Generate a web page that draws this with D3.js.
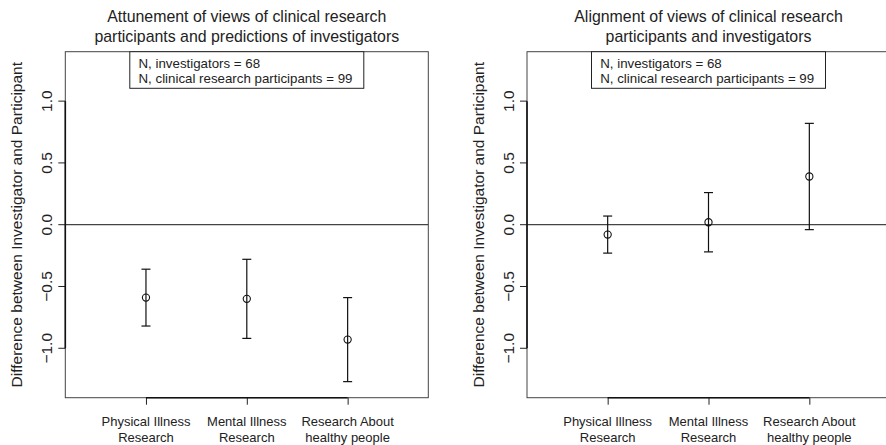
<!DOCTYPE html>
<html>
<head>
<meta charset="utf-8">
<script src="https://cdn.jsdelivr.net/npm/d3@7"></script>
<style>
  body { margin: 0; background: #fff; }
  svg { font-family: "Liberation Sans", Arial, sans-serif; }
</style>
</head>
<body>
<svg id="chart" width="886" height="445"></svg>
<script>
// categories along the x axis (two lines each)
const categories = [
  ["Physical Illness", "Research"],
  ["Mental Illness", "Research"],
  ["Research About", "healthy people"]
];
const yTicks = [-1.0, -0.5, 0.0, 0.5, 1.0];
const legendLines = ["N, investigators = 68", "N, clinical research participants = 99"];
const yLabel = "Difference between Investigator and Participant";

// left panel: attunement (participant views vs predictions of investigators)
const leftTitle = ["Attunement of views of clinical research", "participants and predictions of investigators"];
const leftMean = [-0.59, -0.60, -0.93];
const leftLow = [-0.82, -0.92, -1.27];
const leftHigh = [-0.36, -0.28, -0.59];

// right panel: alignment (participant views vs investigator views)
const rightTitle = ["Alignment of views of clinical research", "participants and investigators"];
const rightMean = [-0.08, 0.02, 0.39];
const rightLow = [-0.23, -0.22, -0.04];
const rightHigh = [0.07, 0.26, 0.82];

const svg = d3.select("#chart");

function drawPanel(opts) {
  const g = svg.append("g");
  const x = d3.scaleLinear().domain([0.2, 3.8]).range([opts.left, opts.right]);
  const y = d3.scaleLinear().domain([-1.4, 1.4]).range([397.7, 51.7]);
  const cx = (opts.left + opts.right) / 2;

  // title
  g.append("text")
    .attr("x", cx).attr("y", 22.2)
    .attr("text-anchor", "middle")
    .style("font-size", "15.9px").style("fill", "#222")
    .selectAll("tspan").data(opts.title).enter().append("tspan")
    .attr("x", cx).attr("dy", (d, i) => i ? 19.3 : 0)
    .text(d => d);

  // plot box
  g.append("rect")
    .attr("x", opts.left).attr("y", y(1.4))
    .attr("width", opts.right - opts.left).attr("height", y(-1.4) - y(1.4))
    .attr("fill", "none").attr("stroke", "#444").attr("stroke-width", 1);

  // zero reference line
  g.append("line")
    .attr("x1", opts.left).attr("x2", opts.right)
    .attr("y1", y(0)).attr("y2", y(0))
    .attr("stroke", "#444").attr("stroke-width", 1.2);

  // y axis
  const yAxis = g.append("g")
    .attr("transform", `translate(${opts.left},0)`)
    .call(d3.axisLeft(y).tickValues(yTicks).tickSize(7).tickFormat(d3.format(".1f")));
  yAxis.select(".domain").remove();
  yAxis.selectAll("line").attr("stroke", "#222");
  yAxis.selectAll("text")
    .attr("x", 0).attr("dy", 0)
    .attr("transform", d => `translate(-18.5,${y(d)}) rotate(-90)`)
    .attr("y", 0)
    .attr("dy", "0.35em")
    .attr("text-anchor", "middle")
    .style("font-size", "15.5px").style("fill", "#222")
    .style("font-family", "Liberation Sans, Arial, sans-serif")
    .text(d => d3.format(".1f")(d).replace("-", "\u2212"));
  g.selectAll("g.tick").attr("transform", null);
  yAxis.selectAll(".tick line").attr("transform", d => `translate(0,${y(d)})`);
  g.append("line")
    .attr("x1", opts.left).attr("x2", opts.left)
    .attr("y1", y(-1)).attr("y2", y(1))
    .attr("stroke", "#111").attr("stroke-width", 1.6);

  // y axis label
  g.append("text")
    .attr("transform", `translate(${opts.left - 48.5},${y(0)}) rotate(-90)`)
    .attr("text-anchor", "middle").attr("dy", "0.35em")
    .style("font-size", "15.5px").style("fill", "#222")
    .text(yLabel);

  // x axis
  const xAxis = g.append("g")
    .attr("transform", `translate(0,${y(-1.4)})`)
    .call(d3.axisBottom(x).tickValues([1, 2, 3]).tickSize(7).tickFormat(""));
  xAxis.select(".domain").remove();
  xAxis.selectAll("line").attr("stroke", "#222");
  g.append("line")
    .attr("x1", x(1)).attr("x2", x(3))
    .attr("y1", y(-1.4)).attr("y2", y(-1.4))
    .attr("stroke", "#111").attr("stroke-width", 1.6);
  g.selectAll("text.cat").data(categories).enter().append("text")
    .attr("class", "cat")
    .attr("text-anchor", "middle")
    .style("font-size", "13px").style("fill", "#222")
    .each(function(d, i) {
      d3.select(this).selectAll("tspan").data(d).enter().append("tspan")
        .attr("x", x(i + 1))
        .attr("y", (t, j) => 426 + j * 15.6)
        .text(t => t);
    });

  // legend
  const lg = g.append("g");
  const lgW = 234, lgH = 36.6;
  lg.append("rect")
    .attr("x", cx - lgW / 2).attr("y", y(1.4))
    .attr("width", lgW).attr("height", lgH)
    .attr("fill", "#fff").attr("stroke", "#222").attr("stroke-width", 1);
  lg.selectAll("text").data(legendLines).enter().append("text")
    .attr("x", cx - lgW / 2 + 8.7)
    .attr("y", (d, i) => y(1.4) + 16 + i * 15)
    .style("font-size", "13.3px").style("fill", "#222")
    .text(d => d);

  // error bars
  const idx = d3.range(opts.mean.length);
  g.selectAll("line.bar").data(idx).enter().append("line")
    .attr("class", "bar")
    .attr("x1", i => x(i + 1)).attr("x2", i => x(i + 1))
    .attr("y1", i => y(opts.low[i])).attr("y2", i => y(opts.high[i]))
    .attr("stroke", "#111").attr("stroke-width", 1.2);
  [opts.low, opts.high].forEach(arr => {
    g.selectAll(null).data(idx).enter().append("line")
      .attr("x1", i => x(i + 1) - 4.5).attr("x2", i => x(i + 1) + 4.5)
      .attr("y1", i => y(arr[i])).attr("y2", i => y(arr[i]))
      .attr("stroke", "#111").attr("stroke-width", 1.2);
  });
  g.selectAll("circle").data(idx).enter().append("circle")
    .attr("cx", i => x(i + 1)).attr("cy", i => y(opts.mean[i]))
    .attr("r", 3.6)
    .attr("fill", "none").attr("stroke", "#111").attr("stroke-width", 1.1);
}

drawPanel({ left: 65.3, right: 428.3, title: leftTitle, mean: leftMean, low: leftLow, high: leftHigh });
drawPanel({ left: 527, right: 890, title: rightTitle, mean: rightMean, low: rightLow, high: rightHigh });
</script>
</body>
</html>
